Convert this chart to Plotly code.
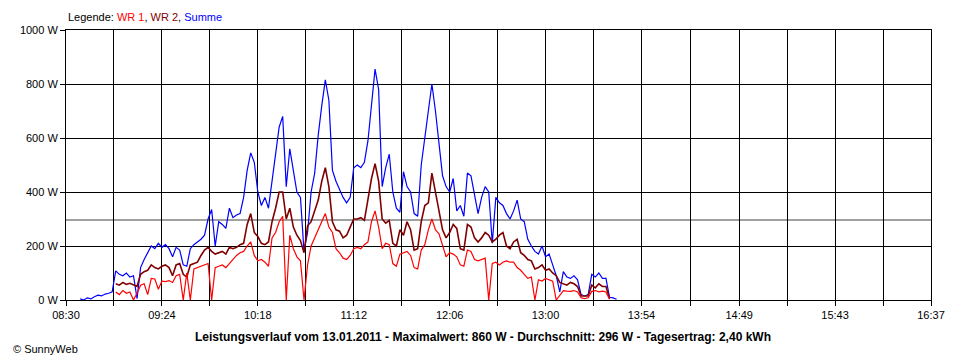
import plotly.graph_objects as go

# ---------------- data ----------------
times = [
    "08:38","08:40","08:42","08:44","08:46","08:48","08:50","08:52","08:54","08:56",
    "08:58","09:00","09:02","09:04","09:06","09:08","09:10","09:12","09:14","09:16",
    "09:18","09:20","09:22","09:24","09:26","09:28","09:30","09:32","09:34","09:36",
    "09:38","09:40","09:42","09:44","09:46","09:48","09:50","09:52","09:54","09:56",
    "09:58","10:00","10:02","10:04","10:06","10:08","10:10","10:12","10:14","10:16",
    "10:18","10:20","10:22","10:24","10:26","10:28","10:30","10:32","10:34","10:36",
    "10:38","10:40","10:42","10:44","10:46","10:48","10:50","10:52","10:54","10:56",
    "10:58","11:00","11:02","11:04","11:06","11:08","11:10","11:12","11:14","11:16",
    "11:18","11:20","11:22","11:24","11:26","11:28","11:30","11:32","11:34","11:36",
    "11:38","11:40","11:42","11:44","11:46","11:48","11:50","11:52","11:54","11:56",
    "11:58","12:00","12:02","12:04","12:06","12:08","12:10","12:12","12:14","12:16",
    "12:18","12:20","12:22","12:24","12:26","12:28","12:30","12:32","12:34","12:36",
    "12:38","12:40","12:42","12:44","12:46","12:48","12:50","12:52","12:54","12:56",
    "12:58","13:00","13:02","13:04","13:06","13:08","13:10","13:12","13:14","13:16",
    "13:18","13:20","13:22","13:24","13:26","13:28","13:30","13:32","13:34","13:36",
    "13:38","13:40",
]

summe = [
    4, 0, 8, 4, 12, 18, 15, 22, 25, 30,
    108, 95, 90, 100, 85, 90, 5, 120, 150, 175,
    200, 190, 210, 195, 205, 190, 160, 195, 185, 130,
    125, 190, 205, 215, 225, 240, 300, 335, 200, 290,
    280, 265, 340, 305, 315, 320, 380, 480, 545, 510,
    400, 350, 380, 340, 440, 530, 640, 680, 420, 560,
    480, 400, 380, 180, 250, 400, 470, 610, 720, 815,
    740, 480, 440, 410, 380, 360, 380, 490, 500, 490,
    510, 590, 720, 855, 780, 420, 490, 540, 400, 340,
    325, 475, 420, 400, 320, 310, 500, 600, 720, 800,
    700, 580, 460, 420, 400, 450, 330, 350, 310, 470,
    460, 390, 320, 380, 420, 400, 210, 380, 360, 350,
    320, 300, 330, 370, 300, 290, 225, 200, 180, 170,
    200, 160, 170, 130, 90, 30, 105, 85, 80, 90,
    75, 20, 15, 20, 95, 85, 100, 80, 80, 10,
    8, 3,
]

wr2 = [
    None, None, None, None, None, None, None, None, None, None,
    60, 55, 65, 58, 62, 55, 50, 95, 105, 110,
    130, 120, 115, 125, 130, 120, 90, 130, 135, 95,
    85, 130, 135, 140, 165, 185, 195, 180, 170, 175,
    180, 170, 195, 190, 195, 205, 210, 280, 320, 250,
    235, 210, 205, 215, 290, 340, 400, 400, 300, 340,
    270, 240, 220, 175, 275, 290, 330, 370, 440, 490,
    420, 290, 260, 255, 230, 240, 270, 300, 300, 305,
    295, 370, 450, 505, 440, 300, 285, 295, 210, 200,
    260, 240, 290, 260, 185, 190, 290, 350, 360, 470,
    400, 330, 260, 230, 250, 280, 265, 190, 185, 280,
    270, 230, 215, 230, 250, 240, 215, 225, 240, 250,
    200, 190, 215, 225, 175, 165, 150, 145, 115, 120,
    130, 110, 115, 100, 90, 65, 60, 55, 65, 60,
    50, 15, 15, 15, 55, 45, 60, 50, 50, 5,
    None, None,
]

wr1 = [
    None, None, None, None, None, None, None, None, None, None,
    30, 20, 35, 25, 30, 0, 25, 55, 60, 20,
    80, 78, 40, 70, 68, 72, 65, 90, 95, 0,
    100, 0, 115, 120, 125, 130, 135, 0, 120, 125,
    130, 120, 135, 150, 165, 175, 180, 200, 215, 165,
    145, 150, 140, 125, 230, 250, 290, 310, 0, 240,
    190, 160, 145, 0, 130, 200, 230, 265, 295, 320,
    270, 250, 190, 175, 155, 150, 165, 190, 195, 190,
    205, 215, 290, 330, 270, 190, 210, 205, 135, 125,
    170, 175, 180, 165, 120, 115, 185, 205, 260, 300,
    260, 245, 200, 160, 175, 170, 160, 130, 125, 185,
    180, 150, 145, 150, 155, 0, 135, 140, 130, 140,
    145, 140, 140, 120, 110, 95, 80, 85, 0, 75,
    70, 80, 75, 70, 0, 20, 35, 33, 32, 35,
    30, 8, 5, 8, 32, 35, 30, 33, 30, 3,
    None, None,
]

x_tick_labels = ["08:30", "09:24", "10:18", "11:12", "12:06",
                 "13:00", "13:54", "14:49", "15:43", "16:37"]
y_tick_values = [0, 200, 400, 600, 800, 1000]

datum = "13.01.2011"
maximalwert = 860
durchschnitt = 296
tagesertrag = "2,40"

# ---------------- helpers ----------------
def to_min(s):
    h, m = s.split(":")
    return int(h) * 60 + int(m)

x_min = [to_min(t) for t in times]
label_min = [to_min(t) for t in x_tick_labels]

tickvals, ticktext = [], []
for i, v in enumerate(label_min):
    tickvals.append(v)
    ticktext.append(x_tick_labels[i])
    if i < len(label_min) - 1:
        tickvals.append((v + label_min[i + 1]) / 2)
        ticktext.append("")

FONT = "Liberation Sans, Arial, sans-serif"

fig = go.Figure()
fig.add_trace(go.Scatter(x=x_min, y=summe, mode="lines", name="Summe",
                         line=dict(color="#0000FF", width=1.2),
                         connectgaps=False))
fig.add_trace(go.Scatter(x=x_min, y=wr2, mode="lines", name="WR 2",
                         line=dict(color="#800000", width=1.6),
                         connectgaps=False))
fig.add_trace(go.Scatter(x=x_min, y=wr1, mode="lines", name="WR 1",
                         line=dict(color="#FF0000", width=1.2),
                         connectgaps=False))

fig.add_hline(y=durchschnitt, line=dict(color="#808080", width=1.5), layer="below")

# page body has an 8px margin, so the figure is drawn 8px smaller
fig.update_layout(
    width=952, height=352,
    margin=dict(l=52, r=29, t=22, b=60),
    paper_bgcolor="white", plot_bgcolor="white",
    showlegend=False,
    font=dict(family=FONT, size=11, color="black"),
    xaxis=dict(
        range=[label_min[0], label_min[-1]],
        tickmode="array", tickvals=tickvals, ticktext=ticktext,
        showgrid=True, gridcolor="black", gridwidth=1,
        showline=True, linecolor="black", linewidth=1, mirror=True,
        ticks="outside", ticklen=5, tickcolor="black", tickwidth=1,
        zeroline=False, fixedrange=True,
        tickfont=dict(family=FONT, size=11, color="black"),
    ),
    yaxis=dict(
        range=[0, 1000],
        tickmode="array", tickvals=y_tick_values,
        ticktext=[f"{v} W" for v in y_tick_values],
        showgrid=True, gridcolor="black", gridwidth=1,
        showline=True, linecolor="black", linewidth=1, mirror=True,
        ticks="outside", ticklen=5, tickcolor="black", tickwidth=1,
        zeroline=False, fixedrange=True,
        tickfont=dict(family=FONT, size=11, color="black"),
    ),
)

fig.add_annotation(
    xref="paper", yref="paper", x=0, y=1.048, xanchor="left", yanchor="middle",
    showarrow=False, font=dict(family=FONT, size=11, color="black"),
    text=("Legende: <span style='color:#FF0000'>WR 1</span>, "
          "<span style='color:#800000'>WR 2</span>, "
          "<span style='color:#0000FF'>Summe</span>"),
)
fig.add_annotation(
    xref="paper", yref="paper", x=0.482, y=-0.137, xanchor="center", yanchor="middle",
    showarrow=False, font=dict(family=FONT, size=12, color="black"),
    text=(f"<b>Leistungsverlauf vom {datum} - Maximalwert: {maximalwert} W - "
          f"Durchschnitt: {durchschnitt} W - Tagesertrag: {tagesertrag} kWh</b>"),
)
fig.add_annotation(
    xref="paper", yref="paper", x=-0.0631, y=-0.181, xanchor="left", yanchor="middle",
    showarrow=False, font=dict(family=FONT, size=11, color="black"),
    text="© SunnyWeb",
)

fig.write_html("out.html")
